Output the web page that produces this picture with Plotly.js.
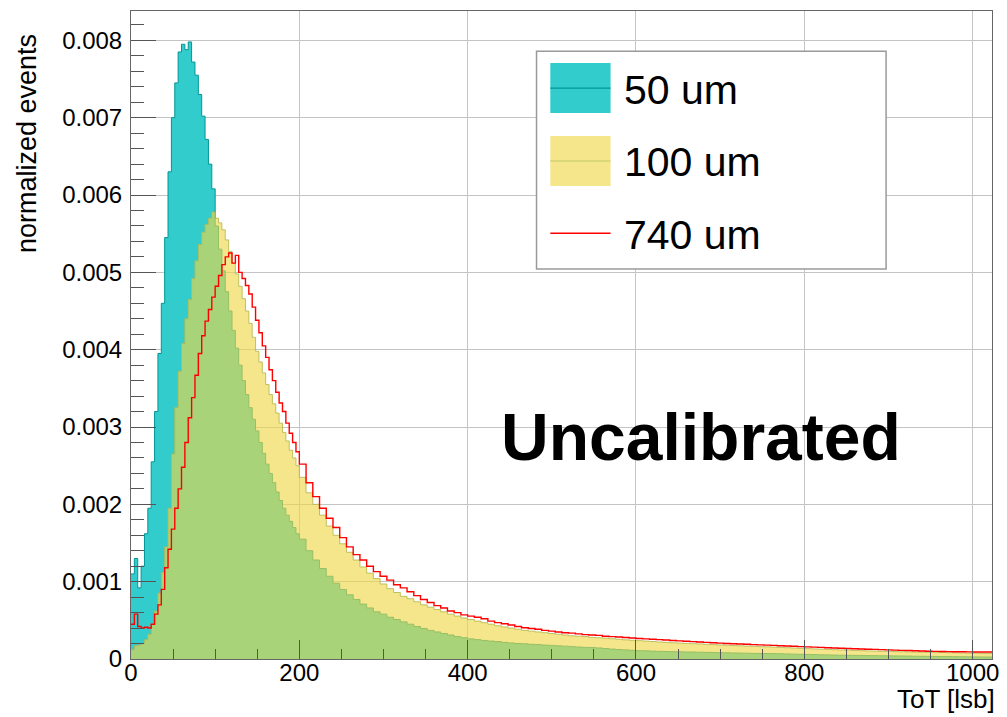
<!DOCTYPE html>
<html>
<head>
<meta charset="utf-8">
<script src="https://cdn.plot.ly/plotly-3.0.1.min.js"></script>
<style>
  html, body { margin: 0; padding: 0; background: #ffffff; }
  #chart { width: 1007px; height: 717px; }
</style>
</head>
<body>
<div id="chart"></div>
<script>
// Bin edges of the ToT histograms (lsb)
const binEdges = [
  0, 4, 8, 12, 16, 20, 24, 28, 32, 36, 40, 44, 48, 52, 56, 60, 64, 68, 72, 76,
  80, 84, 88, 92, 96, 100, 104, 108, 112, 116, 120, 124, 128, 132, 136, 140, 144, 148, 152, 156,
  160, 164, 168, 172, 176, 180, 184, 188, 192, 196,
  200, 208, 216, 224, 232, 240, 248, 256, 264, 272, 280, 288, 296, 304, 312, 320, 328, 336, 344, 352,
  360, 368, 376, 384, 392,
  400, 408, 416, 424, 432, 440, 448, 456, 464, 472, 480, 488, 496, 504, 512, 520, 528, 536, 544, 552,
  560, 568, 576, 584, 592, 600, 608, 616, 624, 632, 640, 648, 656, 664, 672, 680, 688, 696, 704, 712,
  720, 728, 736, 744, 752, 760, 768, 776, 784, 792, 800, 808, 816, 824, 832, 840, 848, 856, 864, 872,
  880, 888, 896, 904, 912, 920, 928, 936, 944, 952, 960, 968, 976, 984, 992, 1000, 1008, 1016,
  1024
];

// Normalized events per bin, in units of 1e-3
const um50 = [
  1.10, 1.30, 0.92, 1.20, 1.62, 1.95, 2.55, 3.20, 3.95, 4.60, 5.45, 6.30, 7.00, 7.45, 7.85, 7.95, 7.88, 7.98, 7.72, 7.55,
  7.30, 7.02, 6.72, 6.40, 6.08, 5.60, 5.30, 5.02, 4.75, 4.50, 4.25, 4.02, 3.80, 3.60, 3.42, 3.25, 3.10, 2.95, 2.80, 2.66,
  2.52, 2.40, 2.28, 2.16, 2.05, 1.95, 1.86, 1.78, 1.70, 1.62,
  1.55, 1.40, 1.28, 1.17, 1.07, 0.98, 0.90, 0.83, 0.77, 0.71, 0.66, 0.61, 0.58, 0.54, 0.51, 0.48, 0.45, 0.42, 0.395, 0.37,
  0.35, 0.33, 0.31, 0.29, 0.275,
  0.26, 0.25, 0.24, 0.232, 0.225, 0.215, 0.207, 0.20, 0.196, 0.19, 0.186, 0.18, 0.176, 0.17, 0.166, 0.16, 0.155, 0.15, 0.148, 0.143,
  0.136, 0.128, 0.122, 0.118, 0.112, 0.108, 0.106, 0.102, 0.099, 0.097, 0.095, 0.093, 0.091, 0.090, 0.088, 0.086, 0.084, 0.082, 0.080, 0.078,
  0.076, 0.075, 0.073, 0.072, 0.071, 0.070, 0.068, 0.065, 0.063, 0.061, 0.059, 0.057, 0.055, 0.053, 0.051, 0.049, 0.048, 0.047, 0.046, 0.044,
  0.043, 0.042, 0.041, 0.040, 0.039, 0.038, 0.036, 0.035, 0.034, 0.033, 0.032, 0.031, 0.030, 0.029, 0.028, 0.027, 0.026, 0.025
];

const um100 = [
  0.12, 0.17, 0.18, 0.20, 0.25, 0.32, 0.45, 0.62, 0.85, 1.12, 1.45, 1.95, 2.65, 3.25, 3.72, 4.08, 4.40, 4.65, 4.92, 5.15,
  5.36, 5.52, 5.62, 5.70, 5.78, 5.70, 5.64, 5.55, 5.42, 5.27, 5.12, 4.98, 4.82, 4.66, 4.50, 4.34, 4.16, 3.98, 3.84, 3.70,
  3.55, 3.42, 3.30, 3.18, 3.05, 2.93, 2.82, 2.70, 2.60, 2.50,
  2.35, 2.15, 2.00, 1.86, 1.72, 1.60, 1.49, 1.38, 1.28, 1.19, 1.11, 1.04, 0.97, 0.91, 0.86, 0.81, 0.78, 0.74, 0.70, 0.67,
  0.64, 0.61, 0.58, 0.555, 0.53,
  0.51, 0.49, 0.47, 0.45, 0.43, 0.415, 0.40, 0.385, 0.37, 0.36, 0.35, 0.34, 0.33, 0.32, 0.31, 0.30, 0.295, 0.29, 0.28, 0.275,
  0.27, 0.262, 0.255, 0.248, 0.242, 0.237, 0.232, 0.226, 0.220, 0.215, 0.210, 0.206, 0.202, 0.198, 0.195, 0.190, 0.186, 0.182, 0.178, 0.174,
  0.170, 0.167, 0.164, 0.160, 0.157, 0.154, 0.150, 0.146, 0.142, 0.138, 0.134, 0.130, 0.127, 0.124, 0.120, 0.117, 0.114, 0.111, 0.108, 0.105,
  0.103, 0.100, 0.098, 0.096, 0.094, 0.092, 0.090, 0.089, 0.088, 0.086, 0.084, 0.082, 0.080, 0.078, 0.076, 0.074, 0.072, 0.070
];

const um740 = [
  0.45, 0.58, 0.42, 0.40, 0.41, 0.40, 0.45, 0.58, 0.70, 0.90, 1.18, 1.42, 1.68, 1.95, 2.20, 2.48, 2.80, 3.12, 3.38, 3.67,
  3.95, 4.18, 4.37, 4.52, 4.68, 4.82, 4.96, 5.10, 5.20, 5.25, 5.12, 5.22, 5.00, 4.92, 4.83, 4.72, 4.55, 4.38, 4.22, 4.05,
  3.90, 3.74, 3.60, 3.45, 3.31, 3.20, 3.05, 2.92, 2.80, 2.68,
  2.52, 2.28, 2.10, 1.95, 1.82, 1.70, 1.57, 1.45, 1.35, 1.28, 1.20, 1.13, 1.07, 1.02, 0.96, 0.92, 0.87, 0.82, 0.77, 0.73,
  0.69, 0.66, 0.62, 0.60, 0.57,
  0.555, 0.54, 0.52, 0.49, 0.47, 0.455, 0.44, 0.42, 0.405, 0.395, 0.385, 0.37, 0.36, 0.35, 0.34, 0.335, 0.325, 0.315, 0.31, 0.305,
  0.295, 0.29, 0.285, 0.278, 0.272, 0.265, 0.26, 0.255, 0.25, 0.245, 0.24, 0.235, 0.23, 0.225, 0.22, 0.215, 0.21, 0.205, 0.20, 0.197,
  0.194, 0.19, 0.186, 0.183, 0.18, 0.176, 0.172, 0.168, 0.164, 0.16, 0.157, 0.153, 0.15, 0.146, 0.142, 0.139, 0.136, 0.133, 0.13, 0.127,
  0.124, 0.121, 0.118, 0.115, 0.112, 0.109, 0.106, 0.103, 0.10, 0.098, 0.097, 0.095, 0.094, 0.093, 0.092, 0.091, 0.09, 0.09
];

const seriesNames = ['50 um', '100 um', '740 um'];
const yTickVals = [0, 0.001, 0.002, 0.003, 0.004, 0.005, 0.006, 0.007, 0.008];
const yTickText = ['0', '0.001', '0.002', '0.003', '0.004', '0.005', '0.006', '0.007', '0.008'];
const xTickVals = [0, 200, 400, 600, 800, 1000];
const xTickText = ['0', '200', '400', '600', '800', '1000'];

const FONT = 'Liberation Sans, Arial, Helvetica, sans-serif';
const COL50 = 'rgb(51,204,204)';
const LINE50 = 'rgb(0,150,150)';
const COL100 = 'rgba(239,215,72,0.63)';
const LINE100 = 'rgba(180,185,80,0.85)';
const COL740 = 'rgb(255,0,0)';

// step histogram: value held from each bin's left edge to the next edge
function stepY(vals) {
  const y = vals.map(v => v * 1e-3);
  y.push(y[y.length - 1]);
  return y;
}

const traces = [
  {
    x: binEdges, y: stepY(um50), name: seriesNames[0], type: 'scatter', mode: 'lines',
    line: { shape: 'hv', color: LINE50, width: 1 }, fill: 'tozeroy', fillcolor: COL50,
    showlegend: false
  },
  {
    x: binEdges, y: stepY(um100), name: seriesNames[1], type: 'scatter', mode: 'lines',
    line: { shape: 'hv', color: LINE100, width: 1 }, fill: 'tozeroy', fillcolor: COL100,
    showlegend: false
  },
  {
    x: binEdges, y: stepY(um740), name: seriesNames[2], type: 'scatter', mode: 'lines',
    line: { shape: 'hv', color: COL740, width: 1.4 },
    showlegend: false
  }
];

// Legend drawn in paper coordinates
const L = { x0: 0.471, x1: 0.877, y0: 0.602, y1: 0.938 };
const sw = { x0: 0.487, x1: 0.557 };
const shapes = [
  { type: 'rect', xref: 'paper', yref: 'paper', x0: L.x0, x1: L.x1, y0: L.y0, y1: L.y1,
    fillcolor: '#ffffff', line: { color: '#9a9a9a', width: 1.5 }, layer: 'above' },
  { type: 'rect', xref: 'paper', yref: 'paper', x0: sw.x0, x1: sw.x1, y0: 0.8426, y1: 0.9197,
    fillcolor: COL50, line: { width: 0 }, layer: 'above' },
  { type: 'line', xref: 'paper', yref: 'paper', x0: sw.x0, x1: sw.x1, y0: 0.881, y1: 0.881,
    line: { color: LINE50, width: 1.2 }, layer: 'above' },
  { type: 'rect', xref: 'paper', yref: 'paper', x0: sw.x0, x1: sw.x1, y0: 0.730, y1: 0.807,
    fillcolor: 'rgb(245,230,140)', line: { width: 0 }, layer: 'above' },
  { type: 'line', xref: 'paper', yref: 'paper', x0: sw.x0, x1: sw.x1, y0: 0.7685, y1: 0.7685,
    line: { color: 'rgb(190,200,100)', width: 1 }, layer: 'above' },
  { type: 'line', xref: 'paper', yref: 'paper', x0: sw.x0, x1: sw.x1, y0: 0.657, y1: 0.657,
    line: { color: COL740, width: 1.4 }, layer: 'above' }
];

const annotations = [
  { xref: 'paper', yref: 'paper', x: 0.570, y: 0.878, xanchor: 'left', yanchor: 'middle',
    text: seriesNames[0], showarrow: false, font: { family: FONT, size: 41, color: '#000' } },
  { xref: 'paper', yref: 'paper', x: 0.570, y: 0.767, xanchor: 'left', yanchor: 'middle',
    text: seriesNames[1], showarrow: false, font: { family: FONT, size: 41, color: '#000' } },
  { xref: 'paper', yref: 'paper', x: 0.570, y: 0.654, xanchor: 'left', yanchor: 'middle',
    text: seriesNames[2], showarrow: false, font: { family: FONT, size: 41, color: '#000' } },
  { xref: 'paper', yref: 'paper', x: 0.662, y: 0.343, xanchor: 'center', yanchor: 'middle',
    text: '<b>Uncalibrated</b>', showarrow: false, font: { family: FONT, size: 66, color: '#000' } },
  { xref: 'paper', yref: 'paper', x: 1.0045, y: -0.0865, xanchor: 'right', yanchor: 'bottom',
    borderpad: 0, text: 'ToT [lsb]', showarrow: false, font: { family: FONT, size: 26, color: '#000' } },
  { xref: 'paper', yref: 'paper', x: -0.121, y: 0.968, xanchor: 'center', yanchor: 'top',
    text: 'normalized events', textangle: -90, showarrow: false, font: { family: FONT, size: 27, color: '#000' } }
];

const layout = {
  width: 1007, height: 717,
  margin: { l: 131, r: 15, t: 11, b: 58, pad: 0 },
  paper_bgcolor: '#ffffff', plot_bgcolor: '#ffffff',
  font: { family: FONT, size: 24, color: '#000' },
  showlegend: false,
  xaxis: {
    range: [0, 1023], tickmode: 'array', tickvals: xTickVals, ticktext: xTickText,
    ticks: 'inside', ticklen: 19, tickwidth: 1, tickcolor: '#555',
    showline: true, linecolor: '#666', linewidth: 1, mirror: true,
    showgrid: true, gridcolor: '#c4c4c4', gridwidth: 1, zeroline: false,
    minor: { tickmode: 'linear', tick0: 0, dtick: 50, ticks: 'inside', ticklen: 10, tickcolor: '#555', showgrid: false },
    tickfont: { family: FONT, size: 24, color: '#000' }, ticklabelstandoff: -8,
    title: { text: '' }
  },
  yaxis: {
    range: [0, 0.00838], tickmode: 'array', tickvals: yTickVals, ticktext: yTickText,
    ticks: 'inside', ticklen: 25, tickwidth: 1, tickcolor: '#555',
    showline: true, linecolor: '#666', linewidth: 1, mirror: true,
    showgrid: true, gridcolor: '#c4c4c4', gridwidth: 1, zeroline: false,
    minor: { tickmode: 'linear', tick0: 0, dtick: 0.0002, ticks: 'inside', ticklen: 13, tickcolor: '#555', showgrid: false },
    tickfont: { family: FONT, size: 24, color: '#000' }, ticklabelstandoff: 3,
    title: { text: '' }
  },
  shapes: shapes,
  annotations: annotations
};

Plotly.newPlot('chart', traces, layout, { displayModeBar: false, staticPlot: true });
</script>
</body>
</html>
